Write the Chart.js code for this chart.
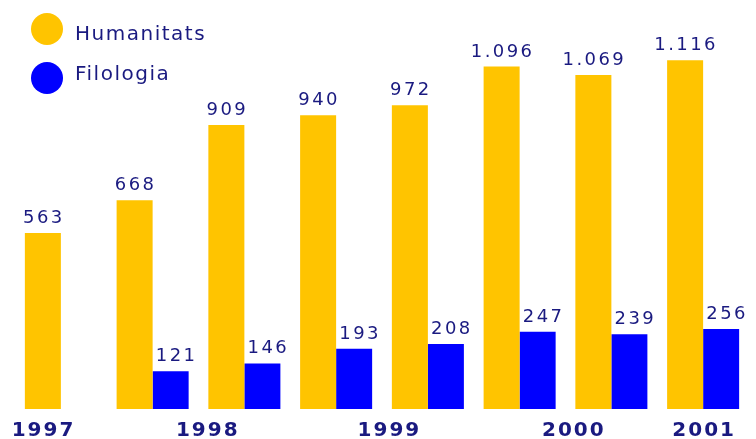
<!DOCTYPE html>
<html>
<head>
<meta charset="utf-8">
<script src="https://cdn.jsdelivr.net/npm/chart.js@4/dist/chart.umd.min.js"></script>
<style>
  html, body { margin: 0; padding: 0; background: #fff; }
  #wrap { width: 756px; height: 439px; }
</style>
</head>
<body>
<div id="wrap"><canvas id="chart" width="756" height="439"></canvas></div>
<script>
// one group per academic course; 1997 has no Filologia figure
const groups = ['g1', 'g2', 'g3', 'g4', 'g5', 'g6', 'g7', 'g8'];
const humanitats = [563, 668, 909, 940, 972, 1096, 1069, 1116];
const filologia = [null, 121, 146, 193, 208, 247, 239, 256];

// year labels under the axis, placed on the category scale (index units)
const yearLabels = ['1997', '1998', '1999', '2000', '2001'];
const yearPositions = [-0.2, 1.59, 3.57, 5.58, 7.0];

const YELLOW = '#ffc400';
const BLUE = '#0000ff';
const NAVY = '#1a1a80';

function fmt(v) {
  return String(v).replace(/\B(?=(\d{3})+(?!\d))/g, '.');
}

const overlay = {
  id: 'overlay',
  afterDatasetsDraw(chart) {
    const ctx = chart.ctx;
    const x = chart.scales.x;
    const area = chart.chartArea;

    ctx.save();
    ctx.fillStyle = NAVY;

    // value labels above bars
    ctx.font = '18px "DejaVu Sans"';
    ctx.letterSpacing = '2.4px';
    ctx.textAlign = 'center';
    ctx.textBaseline = 'alphabetic';
    chart.data.datasets.forEach((ds, di) => {
      const meta = chart.getDatasetMeta(di);
      const shift = di === 1 ? 6 : 1;
      meta.data.forEach((bar, i) => {
        const v = ds.data[i];
        if (v == null) return;
        ctx.fillText(fmt(v), bar.x + shift, bar.y - 10);
      });
    });

    // year labels
    ctx.font = 'bold 20px "DejaVu Sans"';
    ctx.letterSpacing = '2px';
    yearLabels.forEach((t, i) => {
      ctx.fillText(t, x.getPixelForValue(yearPositions[i]) + 1, area.bottom + 27);
    });

    // legend
    const legendY = [[29, 35], [78, 75]];
    ctx.font = '20px "DejaVu Sans"';
    ctx.letterSpacing = '1.5px';
    ctx.textAlign = 'left';
    ctx.textBaseline = 'middle';
    chart.data.datasets.forEach((ds, di) => {
      ctx.fillStyle = ds.backgroundColor;
      ctx.beginPath();
      ctx.arc(47, legendY[di][0], 16, 0, Math.PI * 2);
      ctx.fill();
      ctx.fillStyle = NAVY;
      ctx.fillText(ds.label, 75, legendY[di][1]);
    });
    ctx.restore();
  }
};

new Chart(document.getElementById('chart'), {
  type: 'bar',
  data: {
    labels: groups,
    datasets: [
      { label: 'Humanitats', data: humanitats, backgroundColor: YELLOW },
      { label: 'Filologia', data: filologia, backgroundColor: BLUE }
    ]
  },
  options: {
    responsive: false,
    animation: false,
    events: [],
    layout: { padding: { top: 34, bottom: 30, left: 15, right: 7 } },
    datasets: {
      bar: { categoryPercentage: 0.785, barPercentage: 1, borderWidth: 0 }
    },
    scales: {
      x: { display: false },
      y: { display: false, min: 0, max: 1200 }
    },
    plugins: {
      legend: { display: false },
      tooltip: { enabled: false }
    }
  },
  plugins: [overlay]
});
</script>
</body>
</html>
